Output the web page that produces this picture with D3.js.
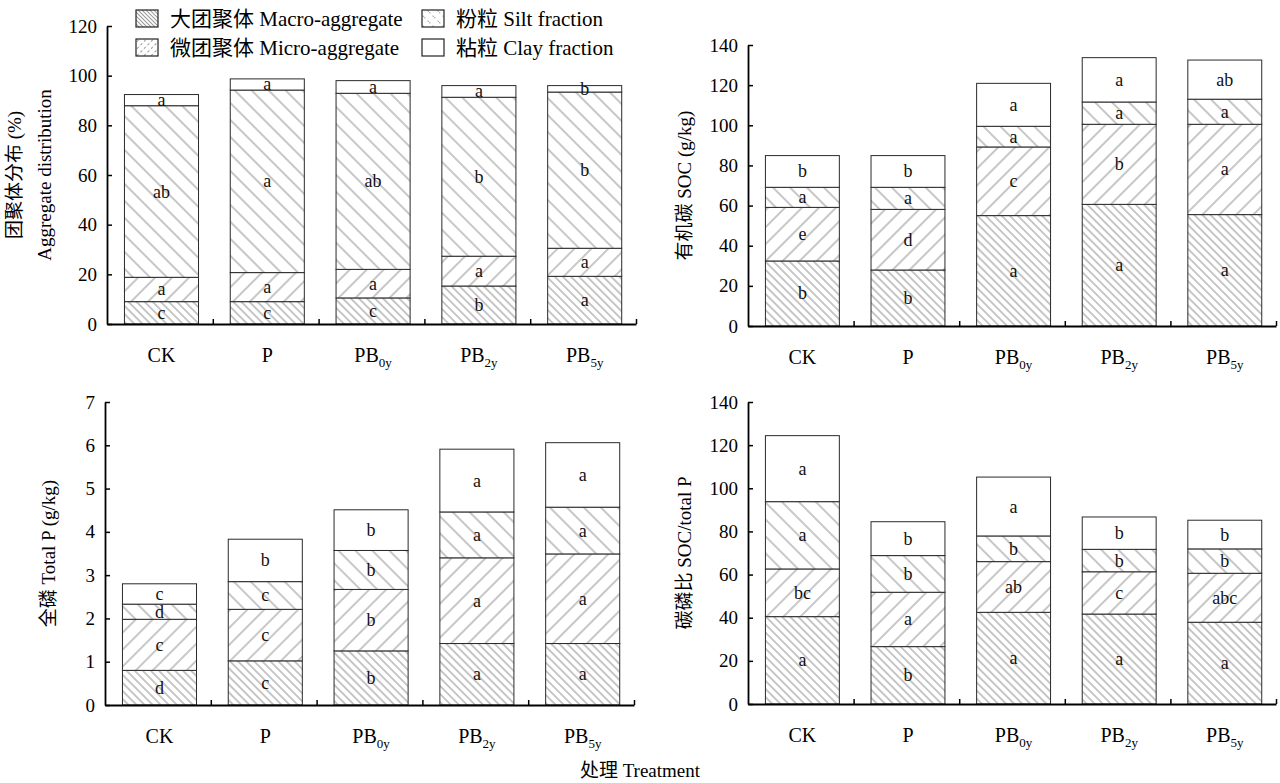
<!DOCTYPE html>
<html><head><meta charset="utf-8">
<script src="https://cdn.jsdelivr.net/npm/d3@7"></script>
<style>body{margin:0;background:#fff}svg{display:block}</style>
</head><body>
<svg id="c" width="1280" height="783"></svg>
<script>
// ---------------- data ----------------
const categories = ["CK","P","PB0y","PB2y","PB5y"];
const catBase = ["CK","P","PB","PB","PB"];
const catSub  = ["","","0y","2y","5y"];
const fractions = ["silt","micro","macro","clay"];
const legendLabels = ["大团聚体 Macro-aggregate","微团聚体 Micro-aggregate","粉粒 Silt fraction","粘粒 Clay fraction"];

// Aggregate distribution (%)
const aggSilt  = [9.0, 9.0, 10.5, 15.3, 19.2];
const aggMicro = [9.8, 11.7, 11.5, 12.0, 11.3];
const aggMacro = [69.1, 73.5, 70.9, 64.0, 62.9];
const aggClay  = [4.5, 4.5, 5.1, 4.7, 2.6];
const aggLetters = [["c","c","c","b","a"],["a","a","a","a","a"],["ab","a","ab","b","b"],["a","a","a","a","b"]];
const aggTicks = [0,20,40,60,80,100,120];

// SOC (g/kg)
const socSilt  = [32.4, 27.9, 55.0, 60.6, 55.5];
const socMicro = [26.7, 30.2, 34.2, 39.9, 45.0];
const socMacro = [10.0, 11.0, 10.3, 11.1, 12.5];
const socClay  = [15.8, 15.8, 21.4, 22.1, 19.5];
const socLetters = [["b","b","a","a","a"],["e","d","c","b","a"],["a","a","a","a","a"],["b","b","a","a","ab"]];
const socTicks = [0,20,40,60,80,100,120,140];

// Total P (g/kg)
const tpSilt  = [0.80, 1.02, 1.25, 1.42, 1.42];
const tpMicro = [1.18, 1.19, 1.42, 1.98, 2.07];
const tpMacro = [0.35, 0.64, 0.90, 1.06, 1.08];
const tpClay  = [0.47, 0.98, 0.94, 1.45, 1.49];
const tpLetters = [["d","c","b","a","a"],["c","c","b","a","a"],["d","c","b","a","a"],["c","b","b","a","a"]];
const tpTicks = [0,1,2,3,4,5,6,7];

// SOC / total P
const cpSilt  = [40.5, 26.6, 42.5, 41.7, 37.9];
const cpMicro = [22.1, 25.2, 23.5, 19.6, 22.7];
const cpMacro = [31.2, 17.0, 11.9, 10.4, 11.3];
const cpClay  = [30.6, 15.7, 27.3, 15.0, 13.3];
const cpLetters = [["a","b","a","a","a"],["bc","a","ab","c","abc"],["a","b","b","b","b"],["a","b","a","b","b"]];
const cpTicks = [0,20,40,60,80,100,120,140];

const xTitle = "处理 Treatment";

// ---------------- drawing ----------------
const FONT = '"Liberation Serif","Times New Roman","Noto Sans CJK SC",serif';
const svg = d3.select("#c");
const defs = svg.append("defs");

function hatch(id, angle, spacing, color, width, dash){
  const p = defs.append("pattern").attr("id", id)
    .attr("patternUnits","userSpaceOnUse")
    .attr("width", spacing).attr("height", spacing)
    .attr("patternTransform", `rotate(${angle})`);
  p.append("rect").attr("width", spacing).attr("height", spacing).attr("fill","#fff");
  const l = p.append("line").attr("x1", spacing/2).attr("x2", spacing/2)
    .attr("y1", 0).attr("y2", spacing)
    .attr("stroke", color).attr("stroke-width", width);
  if (dash) l.attr("stroke-dasharray", dash);
}
hatch("pSilt", -45, 5.7, "#909090", 1);
hatch("pMicro", 45, 12, "#909090", 1);
hatch("pMacro", -45, 12, "#909090", 1);
hatch("lMacro", -45, 2.8, "#9a9a9a", 1);
hatch("lMicro", 45, 5, "#8a8a8a", 1, "1.2,2.5");
hatch("lSilt", -45, 7, "#8a8a8a", 1, "1.2,3.5");
const fills = {silt:"url(#pSilt)", micro:"url(#pMicro)", macro:"url(#pMacro)", clay:"#fff"};

const panels = [
  {x0:107, x1:636, yBase:324, yTop:26, max:120, ticks:aggTicks,
   s:[aggSilt,aggMicro,aggMacro,aggClay], L:aggLetters,
   titles:[["团聚体分布 (%)",14],["Aggregate distribution",44]]},
  {x0:748, x1:1276, yBase:326, yTop:45, max:140, ticks:socTicks,
   s:[socSilt,socMicro,socMacro,socClay], L:socLetters,
   titles:[["有机碳 SOC (g/kg)",684]]},
  {x0:105, x1:634, yBase:705, yTop:402, max:7, ticks:tpTicks,
   s:[tpSilt,tpMicro,tpMacro,tpClay], L:tpLetters,
   titles:[["全磷 Total P (g/kg)",48]]},
  {x0:748, x1:1276, yBase:704, yTop:402, max:140, ticks:cpTicks,
   s:[cpSilt,cpMicro,cpMacro,cpClay], L:cpLetters,
   titles:[["碳磷比 SOC/total P",684]]}
];

panels.forEach(P => {
  const g = svg.append("g");
  const x = d3.scaleBand().domain(categories).range([P.x0, P.x1])
    .paddingInner(0.3).paddingOuter(0.15).align(0.55);
  const xb = d3.scaleLinear().domain([0, categories.length]).range([P.x0, P.x1]);
  const y = d3.scaleLinear().domain([0, P.max]).range([P.yBase, P.yTop]);

  const rows = categories.map((c,i) => {
    const r = {cat:c};
    fractions.forEach((f,k) => r[f] = P.s[k][i]);
    return r;
  });
  const stacked = d3.stack().keys(fractions)(rows);

  stacked.forEach((layer, k) => {
    const f = fractions[k];
    g.append("g").selectAll("rect").data(layer).join("rect")
      .attr("x", d => x(d.data.cat))
      .attr("width", x.bandwidth())
      .attr("y", d => y(d[1]))
      .attr("height", d => y(d[0]) - y(d[1]))
      .attr("fill", fills[f])
      .attr("stroke", "#2a2a2a").attr("stroke-width", 1);
  });
  stacked.forEach((layer, k) => {
    g.append("g").selectAll("text").data(layer).join("text")
      .attr("x", d => x(d.data.cat) + x.bandwidth()/2)
      .attr("y", d => y((d[0]+d[1])/2))
      .attr("text-anchor","middle").attr("dominant-baseline","central")
      .attr("font-family", FONT).attr("font-size", 18).attr("fill","#111")
      .text((d,i) => P.L[k][i]);
  });

  // y axis
  const ya = g.append("g").attr("transform", `translate(${P.x0},0)`)
    .call(d3.axisLeft(y).tickValues(P.ticks).tickFormat(d3.format("d"))
      .tickSizeInner(-5).tickSizeOuter(0).tickPadding(10))
    .attr("font-family", FONT).attr("font-size", 19);
  ya.select(".domain").attr("stroke","#000").attr("stroke-width",1.8);
  ya.selectAll(".tick line").attr("stroke","#000").attr("stroke-width",1.5);
  ya.selectAll(".tick text").attr("fill","#000");

  // x axis
  const xa = g.append("g").attr("transform", `translate(0,${P.yBase})`)
    .call(d3.axisBottom(xb).tickValues(d3.range(1, categories.length+1))
      .tickSizeInner(-5).tickSizeOuter(0).tickFormat(""));
  xa.select(".domain").attr("stroke","#000").attr("stroke-width",1.8);
  xa.selectAll(".tick line").attr("stroke","#000").attr("stroke-width",1.5);

  // category labels
  const cl = g.append("g").selectAll("text").data(categories).join("text")
    .attr("x", d => x(d) + x.bandwidth()/2)
    .attr("y", P.yBase + 38)
    .attr("text-anchor","middle")
    .attr("font-family", FONT).attr("font-size", 20).attr("fill","#000");
  cl.append("tspan").text((d,i) => catBase[i]);
  cl.append("tspan").attr("dy", 5).attr("font-size", 13).text((d,i) => catSub[i]);

  // y titles
  P.titles.forEach(([t, tx]) => {
    g.append("text")
      .attr("transform", `translate(${tx},${(P.yBase+P.yTop)/2}) rotate(-90)`)
      .attr("text-anchor","middle").attr("dominant-baseline","central")
      .attr("font-family", FONT).attr("font-size", 19).attr("fill","#000")
      .text(t);
  });
});

// legend
const legendPos = [[136,10],[136,39],[422,10],[422,39]];
const legendFill = ["url(#lMacro)","url(#lMicro)","url(#lSilt)","#fff"];
const lg = svg.append("g").selectAll("g").data(legendLabels).join("g")
  .attr("transform", (d,i) => `translate(${legendPos[i][0]},${legendPos[i][1]})`);
lg.append("rect").attr("width",22).attr("height",17)
  .attr("fill",(d,i)=>legendFill[i]).attr("stroke","#222").attr("stroke-width",1.2);
lg.append("text").attr("x",34).attr("y",15.5)
  .attr("font-family", FONT).attr("font-size", 21).attr("fill","#000")
  .text(d => d);

svg.append("text").attr("x",640).attr("y",777).attr("text-anchor","middle")
  .attr("font-family", FONT).attr("font-size", 19).attr("fill","#000")
  .text(xTitle);
</script>
</body></html>
